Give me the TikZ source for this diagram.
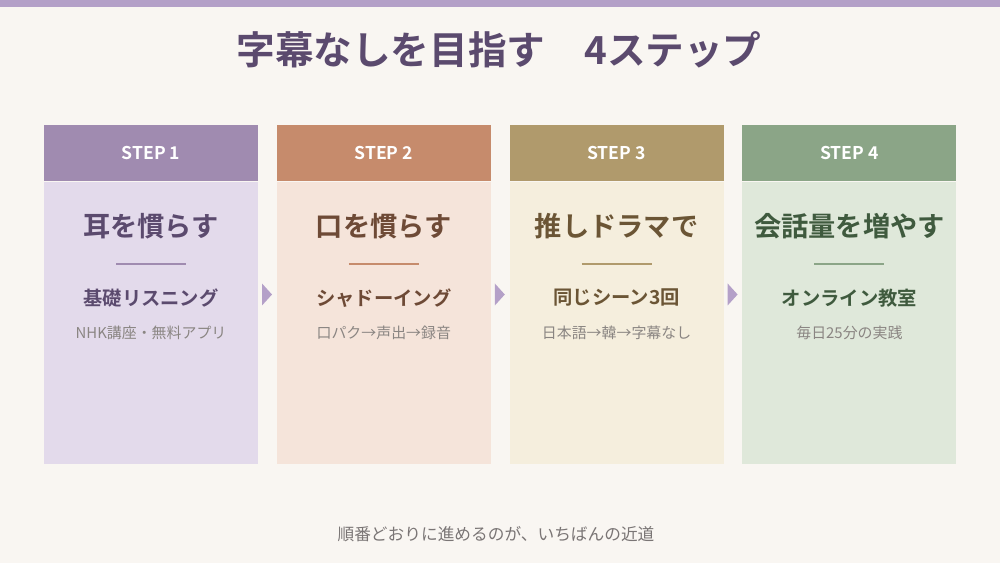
\documentclass[tikz,border=0pt]{standalone}
\usepackage{fontspec}
\setmainfont{Noto Sans CJK JP}[BoldFont={* Bold}]
\usetikzlibrary{positioning}

\definecolor{bgc}{HTML}{F9F6F2}
\definecolor{barc}{HTML}{B4A0C8}
\definecolor{titlec}{HTML}{5B4A6E}
\definecolor{grayc}{HTML}{8A8582}
\definecolor{footc}{HTML}{7A7575}
\definecolor{head1}{HTML}{A08BB0}
\definecolor{head2}{HTML}{C68B6C}
\definecolor{head3}{HTML}{B09A6C}
\definecolor{head4}{HTML}{8BA587}
\definecolor{body1}{HTML}{E3DAEB}
\definecolor{body2}{HTML}{F5E4DA}
\definecolor{body3}{HTML}{F5EEDD}
\definecolor{body4}{HTML}{DFE8DA}
\definecolor{ink1}{HTML}{5B4A6E}
\definecolor{ink2}{HTML}{6E4A36}
\definecolor{ink3}{HTML}{6B5535}
\definecolor{ink4}{HTML}{3F5A3E}

\tikzset{
  headbox/.style={minimum width=214*0.02cm, minimum height=56*0.02cm, inner sep=0pt,
    font=\bfseries\fontsize{10}{12}\selectfont, text=white},
  bodybox/.style={minimum width=214*0.02cm, minimum height=282*0.02cm, inner sep=0pt},
  bigtitle/.style={font=\bfseries\fontsize{15.5}{18}\selectfont},
  subtitle/.style={font=\bfseries\fontsize{11}{13}\selectfont},
  desc/.style={font=\fontsize{8.5}{10}\selectfont, text=grayc},
}

\begin{document}
\begin{tikzpicture}[x=0.02cm, y=0.02cm]
  \fill[bgc] (0,0) rectangle (1000,563);
  \fill[barc] (0,555.5) rectangle (1000,563);
  \node[font=\bfseries\fontsize{22}{26}\selectfont, text=titlec] (title) at (499,513) {字幕なしを目指す　4ステップ};

  \foreach \i/\ttl/\sub/\desc in {
      1/耳を慣らす/基礎リスニング/NHK講座・無料アプリ,
      2/口を慣らす/シャドーイング/口パク→声出→録音,
      3/推しドラマで/同じシーン3回/日本語→韓→字幕なし,
      4/会話量を増やす/オンライン教室/毎日25分の実践}{
    \pgfmathsetmacro{\cx}{151+(\i-1)*232.8}
    \node[headbox, fill=head\i] (h\i) at (\cx,410) {STEP \i};
    \node[bodybox, fill=body\i, below=0pt of h\i] (b\i) {};
    \node[bigtitle, text=ink\i] (t\i) at (\cx,337) {\ttl};
    \draw[head\i, line width=2*0.02cm] (\cx-35,299) -- (\cx+35,299);
    \node[subtitle, text=ink\i] (s\i) at (\cx,265) {\sub};
    \node[desc] (d\i) at (\cx,230) {\desc};
  }

  % arrow marks between the steps
  \foreach \i in {1,2,3}{
    \pgfmathsetmacro{\ax}{151+(\i-1)*232.8+111}
    \fill[barc] (\ax,279.5) -- (\ax+10,268.5) -- (\ax,257.5) -- cycle;
  }

  \node[font=\fontsize{9.5}{11}\selectfont, text=footc] (foot) at (496,29) {順番どおりに進めるのが、いちばんの近道};
\end{tikzpicture}
\end{document}
